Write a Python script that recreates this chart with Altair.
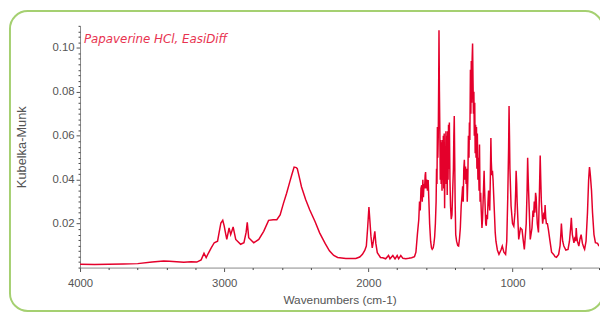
import altair as alt
import pandas as pd

wavenumbers = [
    4000, 3900, 3800, 3700, 3600, 3500, 3420, 3380, 3330, 3280, 3230, 3190, 3160, 3140, 3125, 3110,
    3090, 3069, 3046, 3035, 3023, 3010, 3000, 2993, 2982, 2966, 2955, 2945, 2938, 2920, 2886, 2863,
    2848, 2840, 2830, 2795, 2760, 2726, 2692, 2660, 2635, 2612, 2590, 2567, 2545, 2532, 2515, 2500,
    2493, 2475, 2464, 2435, 2407, 2370, 2338, 2300, 2270, 2240, 2213, 2156, 2087, 2060, 2041, 2025,
    2014, 2005, 1996, 1990, 1982, 1973, 1965, 1955, 1948, 1938, 1916, 1900, 1880, 1860, 1850, 1830,
    1815, 1800, 1790, 1775, 1760, 1740, 1720, 1700, 1680, 1670, 1660,
    1650, 1645, 1640, 1635, 1630, 1626, 1622, 1618, 1614, 1610, 1606, 1603, 1599, 1595, 1590, 1585,
    1580, 1575, 1568, 1562, 1557, 1550, 1545, 1540, 1535, 1530, 1527, 1524, 1521, 1518, 1515, 1512,
    1510, 1507, 1504, 1501, 1498, 1495, 1492, 1489, 1486, 1483, 1480, 1477, 1474, 1471, 1468, 1465,
    1462, 1459, 1456, 1453, 1450, 1447, 1444, 1441, 1438, 1434, 1430, 1425, 1420, 1415, 1410, 1407,
    1404, 1401, 1398, 1394, 1388, 1380, 1374, 1368, 1362, 1356, 1350, 1346, 1342, 1338, 1334, 1330,
    1326, 1322, 1318, 1314, 1310, 1306, 1302, 1299, 1296, 1292, 1289, 1286, 1283, 1280, 1277, 1274,
    1271, 1268, 1265, 1262, 1259, 1256, 1253, 1250, 1247, 1244, 1240, 1236, 1232, 1229, 1225, 1221,
    1217, 1212, 1208, 1204, 1200, 1197, 1194, 1190, 1186, 1182, 1178, 1174, 1170, 1166, 1162, 1158,
    1154, 1150, 1147, 1143, 1139, 1135, 1130, 1125, 1120, 1115, 1105, 1094, 1080, 1071, 1060, 1048,
    1040, 1033, 1027, 1024, 1021, 1018, 1010, 1000, 991, 983, 978, 975, 971, 968, 957, 945,
    934, 925, 918, 905, 899, 895, 891, 886, 877, 865, 858, 854, 849, 845, 840, 836,
    832, 828, 820, 813, 808, 804, 800, 791, 782, 778, 774, 770, 765, 758, 751, 740,
    729, 715, 705, 695, 680, 670, 664, 661, 656, 652, 644, 630, 615, 605, 597, 592,
    588, 585, 574, 566, 562, 558, 554, 550, 540, 532, 524, 515, 505, 500, 490, 480,
    472, 468, 466, 463, 460, 452, 445, 435, 425, 410, 400,
]
kubelka_munk = [
    0.0015, 0.0014, 0.0015, 0.0016, 0.0018, 0.0025, 0.0030, 0.0029, 0.0027, 0.0024, 0.0026, 0.0025, 0.0035, 0.0065, 0.0045, 0.0065,
    0.0090, 0.0113, 0.0120, 0.0160, 0.0203, 0.0215, 0.0190, 0.0165, 0.0128, 0.0180, 0.0150, 0.0170, 0.0185, 0.0128, 0.0106, 0.0113,
    0.0160, 0.0206, 0.0136, 0.0113, 0.0128, 0.0165, 0.0215, 0.0218, 0.0218, 0.0240, 0.0290, 0.0338, 0.0390, 0.0420, 0.0457, 0.0455,
    0.0450, 0.0400, 0.0368, 0.0310, 0.0263, 0.0210, 0.0158, 0.0110, 0.0076, 0.0055, 0.0046, 0.0041, 0.0041, 0.0048, 0.0060, 0.0078,
    0.0098, 0.0180, 0.0275, 0.0220, 0.0143, 0.0090, 0.0120, 0.0165, 0.0110, 0.0068, 0.0046, 0.0045, 0.0040, 0.0055, 0.0040, 0.0055,
    0.0040, 0.0055, 0.0040, 0.0055, 0.0042, 0.0040, 0.0042, 0.0045, 0.0050, 0.0070, 0.0150,
    0.0220, 0.0300, 0.0260, 0.0360, 0.0375, 0.0300, 0.0400, 0.0320, 0.0380, 0.0360, 0.0420, 0.0435, 0.0360, 0.0400, 0.0350, 0.0398,
    0.0300, 0.0200, 0.0120, 0.0090, 0.0083, 0.0090, 0.0110, 0.0140, 0.0200, 0.0300, 0.0450, 0.0380, 0.0640, 0.0500, 0.0600, 0.0850,
    0.1080, 0.0800, 0.0620, 0.0400, 0.0580, 0.0380, 0.0570, 0.0350, 0.0580, 0.0400, 0.0600, 0.0360, 0.0610, 0.0270, 0.0550, 0.0400,
    0.0620, 0.0380, 0.0600, 0.0330, 0.0620, 0.0400, 0.0650, 0.0450, 0.0660, 0.0400, 0.0280, 0.0220, 0.0240, 0.0350, 0.0450, 0.0600,
    0.0690, 0.0500, 0.0300, 0.0150, 0.0120, 0.0100, 0.0098, 0.0130, 0.0180, 0.0280, 0.0330, 0.0370, 0.0300, 0.0450, 0.0490, 0.0400,
    0.0460, 0.0380, 0.0450, 0.0300, 0.0400, 0.0600, 0.0500, 0.0660, 0.0580, 0.0900, 0.0700, 0.0940, 0.0750, 0.0950, 0.1020, 0.0850,
    0.0700, 0.0800, 0.0600, 0.0750, 0.0520, 0.0650, 0.0500, 0.0640, 0.0450, 0.0610, 0.0400, 0.0500, 0.0350, 0.0560, 0.0300, 0.0340,
    0.0260, 0.0180, 0.0220, 0.0300, 0.0380, 0.0440, 0.0360, 0.0280, 0.0200, 0.0190, 0.0240, 0.0220, 0.0300, 0.0350, 0.0300, 0.0260,
    0.0400, 0.0590, 0.0480, 0.0420, 0.0440, 0.0400, 0.0320, 0.0240, 0.0160, 0.0120, 0.0080, 0.0060, 0.0080, 0.0098, 0.0070, 0.0060,
    0.0120, 0.0320, 0.0550, 0.0735, 0.0600, 0.0450, 0.0280, 0.0200, 0.0188, 0.0250, 0.0350, 0.0440, 0.0380, 0.0300, 0.0128, 0.0180,
    0.0173, 0.0120, 0.0083, 0.0200, 0.0350, 0.0500, 0.0400, 0.0300, 0.0128, 0.0180, 0.0260, 0.0230, 0.0300, 0.0250, 0.0340, 0.0320,
    0.0250, 0.0200, 0.0160, 0.0350, 0.0510, 0.0400, 0.0300, 0.0200, 0.0250, 0.0220, 0.0285, 0.0230, 0.0200, 0.0200, 0.0173, 0.0120,
    0.0070, 0.0060, 0.0050, 0.0047, 0.0060, 0.0100, 0.0160, 0.0200, 0.0150, 0.0120, 0.0098, 0.0080, 0.0083, 0.0120, 0.0180, 0.0227,
    0.0180, 0.0150, 0.0113, 0.0140, 0.0120, 0.0180, 0.0140, 0.0120, 0.0098, 0.0130, 0.0150, 0.0110, 0.0090, 0.0083, 0.0120, 0.0250,
    0.0400, 0.0440, 0.0457, 0.0440, 0.0420, 0.0350, 0.0250, 0.0150, 0.0113, 0.0110, 0.0098,
]

x_major = [4000, 3000, 2000, 1000]
x_minor = [v for v in range(400, 4001, 200) if v not in x_major]
y_major = [0.02, 0.04, 0.06, 0.08, 0.10]
y_minor = [round(i * 0.0025, 4) for i in range(0, 45) if round(i * 0.0025, 4) not in y_major]

title_text = "Papaverine HCl, EasiDiff"

df = pd.DataFrame({"wn": wavenumbers, "km": kubelka_munk})

FONT = "Liberation Sans"
RED = "#e4002b"

xscale = alt.Scale(domain=[4000, 400], nice=False, zero=False)
yscale = alt.Scale(domain=[0, 0.11], nice=False)

main = alt.Chart(df).mark_line(color=RED, strokeWidth=1.5, clip=True).encode(
    x=alt.X("wn:Q", scale=xscale,
            axis=alt.Axis(values=x_major, format="d", title="Wavenumbers (cm-1)",
                          tickSize=4, labelPadding=6, titlePadding=6, grid=False,
                          labelFlush=False, titleFontSize=12)),
    y=alt.Y("km:Q", scale=yscale,
            axis=alt.Axis(values=y_major, format=".2f", title="Kubelka-Munk",
                          tickSize=4, labelPadding=2, titlePadding=24, grid=False,
                          titleFontSize=13)),
)

minor = alt.Chart(df).mark_point(opacity=0).encode(
    x=alt.X("wn:Q", scale=xscale,
            axis=alt.Axis(values=x_minor, labels=False, title=None, tickSize=2,
                          domain=False, grid=False, orient="bottom", tickColor="#444444")),
    y=alt.Y("km:Q", scale=yscale,
            axis=alt.Axis(values=y_minor, labels=False, title=None, tickSize=2,
                          domain=False, grid=False, orient="left", tickColor="#444444")),
)

label_df = pd.DataFrame({"t": [title_text]})
label = alt.Chart(label_df).mark_text(
    align="left", baseline="middle", font="DejaVu Sans", fontSize=12, fontStyle="italic",
    color="#e8334f",
).encode(x=alt.value(4), y=alt.value(13), text="t:N")

frame = alt.Chart(pd.DataFrame({"a": [0]})).mark_rect(
    fill=None, fillOpacity=0, stroke="#a5d071", strokeWidth=2, cornerRadius=18,
).encode(x=alt.value(-71), x2=alt.value(530), y=alt.value(-15), y2=alt.value(289))

chart = alt.layer(frame, main, minor, label).resolve_axis(x="independent", y="independent").properties(
    width=526, height=245,
    autosize=alt.AutoSizeParams(type="none"),
    padding={"left": 73, "top": 16, "right": 1, "bottom": 47},
).configure_view(stroke=None).configure_axis(
    labelFont=FONT, titleFont=FONT, labelFontSize=11.5,
    labelColor="#555555", titleColor="#555555", titleFontWeight="normal",
    domainColor="#888888", tickColor="#555555",
)

chart.save("out.html", embed_options={"renderer": "svg", "actions": False})
